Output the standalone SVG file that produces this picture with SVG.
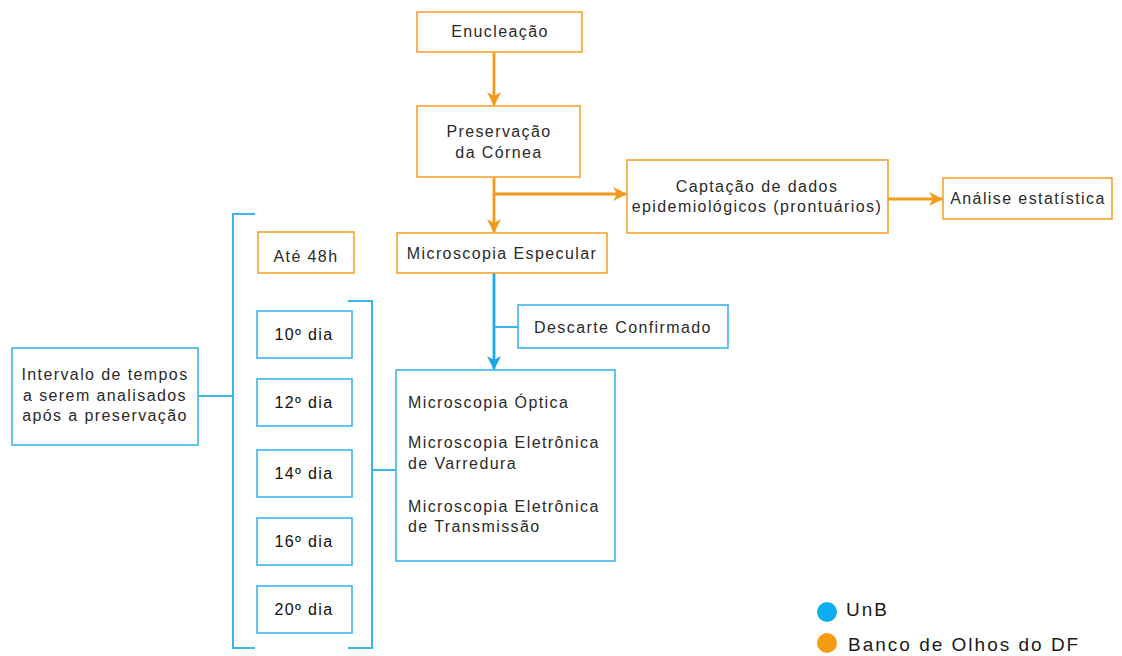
<svg xmlns="http://www.w3.org/2000/svg" width="1122" height="656" viewBox="0 0 1122 656">
<style>
text{font-family:"Liberation Sans",Arial,sans-serif;font-size:16px;fill:#2a2a2a;letter-spacing:1.4px}
.c{text-anchor:middle}
.o{fill:#fff;stroke:#F5A32F;stroke-width:1.6}
.b{fill:#fff;stroke:#3BB6EC;stroke-width:1.6}
.ol{fill:none;stroke:#F29A1A;stroke-width:2.8}
.bl{fill:none;stroke:#1AA9E8;stroke-width:2.8}
.br{fill:none;stroke:#3BB6EC;stroke-width:2}
.lg{font-size:19px;letter-spacing:2px;fill:#1a1a1a}
</style>
<defs>
<marker id="ao" markerWidth="14" markerHeight="14" refX="13" refY="7" orient="auto" markerUnits="userSpaceOnUse" viewBox="0 0 14 14"><path d="M0,0 L14,7 L0,14 L4,7 Z" fill="#F29A1A"/></marker>
<marker id="ab" markerWidth="14" markerHeight="14" refX="13" refY="7" orient="auto" markerUnits="userSpaceOnUse" viewBox="0 0 14 14"><path d="M0,0 L14,7 L0,14 L4,7 Z" fill="#1AA9E8"/></marker>
</defs>
<g id="connectors">
<path class="ol" d="M494,52 V105" marker-end="url(#ao)"/>
<path class="ol" d="M494,177 V232" marker-end="url(#ao)"/>
<path class="ol" d="M494,194 H626" marker-end="url(#ao)"/>
<path class="ol" d="M888,199 H942" marker-end="url(#ao)"/>
<path class="bl" d="M494,273 V369" marker-end="url(#ab)"/>
<path class="br" d="M494,327 H518"/>
<path class="br" d="M198,396 H233"/>
<path class="br" d="M255,214 H233 V648 H255"/>
<path class="br" d="M348,301 H372 V648 H348"/>
<path class="br" d="M372,470 H397"/>
</g>
<g id="enucleacao"><rect class="o" x="417" y="12" width="165" height="40"/><text class="c" x="500" y="37">Enucleação</text></g>
<g id="preservacao"><rect class="o" x="417" y="106" width="163" height="71"/><text class="c" x="499" y="137">Preservação</text><text class="c" x="499" y="158">da Córnea</text></g>
<g id="captacao"><rect class="o" x="627" y="160" width="261" height="73"/><text class="c" x="757" y="192">Captação de dados</text><text class="c" x="757" y="212">epidemiológicos (prontuários)</text></g>
<g id="analise"><rect class="o" x="943" y="178" width="169" height="41"/><text class="c" x="1028" y="204">Análise estatística</text></g>
<g id="especular"><rect class="o" x="397" y="233" width="210" height="40"/><text class="c" x="502" y="259">Microscopia Especular</text></g>
<g id="descarte"><rect class="b" x="518" y="305" width="210" height="43"/><text class="c" x="623" y="333">Descarte Confirmado</text></g>
<g id="microscopias"><rect class="b" x="396" y="370" width="219" height="191"/>
<text x="408" y="408">Microscopia Óptica</text>
<text x="408" y="448">Microscopia Eletrônica</text>
<text x="408" y="469">de Varredura</text>
<text x="408" y="512">Microscopia Eletrônica</text>
<text x="408" y="532">de Transmissão</text></g>
<g id="ate48h"><rect class="o" x="258" y="232" width="96" height="41"/><text class="c" x="306" y="262">Até 48h</text></g>
<g id="intervalo"><rect class="b" x="12" y="348" width="186" height="97"/><text class="c" x="105" y="380">Intervalo de tempos</text><text class="c" x="105" y="401">a serem analisados</text><text class="c" x="105" y="421">após a preservação</text></g>
<g id="dia10"><rect class="b" x="257" y="311" width="95" height="47"/><text class="c" x="304" y="340" style="fill:#111">10º dia</text></g>
<g id="dia12"><rect class="b" x="257" y="379" width="95" height="47"/><text class="c" x="304" y="408" style="fill:#111">12º dia</text></g>
<g id="dia14"><rect class="b" x="257" y="450" width="95" height="47"/><text class="c" x="304" y="479" style="fill:#111">14º dia</text></g>
<g id="dia16"><rect class="b" x="257" y="518" width="95" height="47"/><text class="c" x="304" y="547" style="fill:#111">16º dia</text></g>
<g id="dia20"><rect class="b" x="257" y="586" width="95" height="47"/><text class="c" x="304" y="615" style="fill:#111">20º dia</text></g>
<g id="legenda">
<circle cx="827" cy="612" r="10" fill="#0AAEEF"/><text class="lg" x="846" y="616">UnB</text>
<circle cx="827" cy="643" r="10" fill="#F39C12"/><text class="lg" x="848" y="651">Banco de Olhos do DF</text>
</g>
</svg>
